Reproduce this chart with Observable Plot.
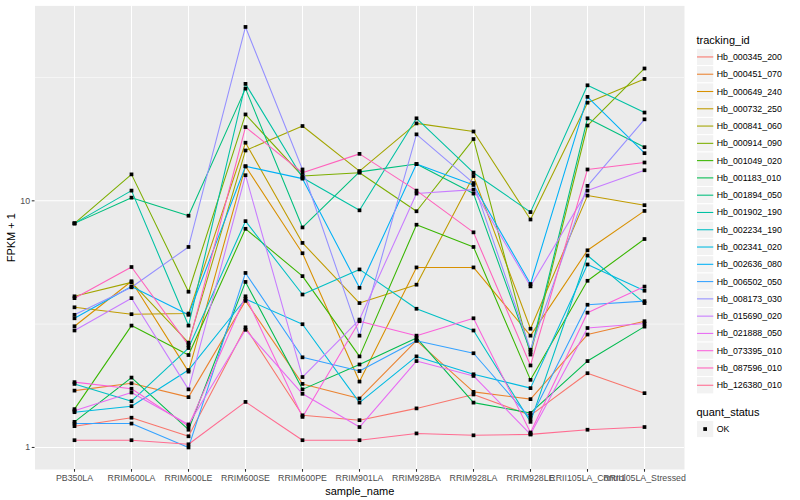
<!DOCTYPE html>
<html><head><meta charset="utf-8">
<script src="https://cdn.jsdelivr.net/npm/d3@7"></script>
<script src="https://cdn.jsdelivr.net/npm/@observablehq/plot@0.6"></script>
<style>
body{margin:0;background:#fff;}
#wrap{position:relative;width:800px;height:500px;}
</style></head><body><div id="wrap"></div>
<script>
const samples = ["PB350LA","RRIM600LA","RRIM600LE","RRIM600SE","RRIM600PE","RRIM901LA","RRIM928BA","RRIM928LA","RRIM928LE","RRII105LA_Control","RRII105LA_Stressed"];
const trackingIds = ["Hb_000345_200","Hb_000451_070","Hb_000649_240","Hb_000732_250","Hb_000841_060","Hb_000914_090","Hb_001049_020","Hb_001183_010","Hb_001894_050","Hb_001902_190","Hb_002234_190","Hb_002341_020","Hb_002636_080","Hb_006502_050","Hb_008173_030","Hb_015690_020","Hb_021888_050","Hb_073395_010","Hb_087596_010","Hb_126380_010"];
const quantStatus = ["OK"];
const yTicks = [1, 10];
const yMinorTicks = [3.1623, 31.623];

// FPKM + 1 per sample, in the order of `samples`
const Hb_000345_200 = [1.22, 1.32, 1.11, 3.07, 1.35, 1.29, 1.44, 1.64, 1.35, 2.0, 1.66];
const Hb_000451_070 = [1.70, 1.82, 1.60, 3.93, 1.81, 1.58, 2.71, 1.68, 1.57, 2.87, 3.25];
const Hb_000649_240 = [3.1, 4.72, 2.03, 13.8, 6.13, 1.85, 5.37, 5.37, 2.84, 6.3, 9.1];
const Hb_000732_250 = [3.7, 3.47, 3.49, 17.2, 6.75, 3.85, 4.57, 12.6, 3.03, 10.5, 9.6];
const Hb_000841_060 = [4.1, 4.67, 2.66, 16.0, 20.1, 13.2, 20.6, 19.1, 8.4, 25.0, 31.2];
const Hb_000914_090 = [8.1, 12.8, 4.28, 22.4, 12.6, 13.0, 9.07, 17.8, 2.38, 20.2, 34.4];
const Hb_001049_020 = [1.43, 3.12, 2.37, 7.7, 4.95, 2.34, 8.0, 6.5, 1.88, 4.74, 7.0];
const Hb_001183_010 = [1.27, 1.92, 1.18, 4.69, 1.72, 2.17, 2.78, 1.52, 1.38, 2.24, 3.09];
const Hb_001894_050 = [8.1, 10.3, 8.7, 28.5, 7.8, 13.1, 14.1, 10.7, 2.44, 21.6, 16.5];
const Hb_001902_190 = [8.1, 11.0, 3.12, 29.8, 12.4, 9.15, 21.6, 13.0, 9.0, 29.4, 22.8];
const Hb_002234_190 = [1.81, 1.54, 2.53, 8.27, 4.17, 5.27, 3.65, 2.98, 1.27, 6.0, 3.85];
const Hb_002341_020 = [1.39, 1.47, 2.06, 4.0, 3.16, 1.52, 2.34, 1.98, 1.74, 5.52, 4.32];
const Hb_002636_080 = [3.34, 4.49, 3.45, 13.8, 12.3, 4.44, 14.1, 11.6, 4.6, 26.4, 15.6];
const Hb_006502_050 = [1.25, 1.25, 1.0, 5.1, 2.32, 2.04, 2.71, 2.41, 1.31, 3.79, 3.92];
const Hb_008173_030 = [3.45, 4.46, 6.5, 50.7, 13.4, 2.84, 18.6, 11.8, 2.49, 11.5, 21.4];
const Hb_015690_020 = [2.98, 4.03, 1.72, 12.7, 1.93, 3.3, 10.7, 11.1, 4.5, 11.0, 13.3];
const Hb_021888_050 = [1.41, 1.67, 1.24, 3.0, 1.65, 1.21, 2.24, 1.95, 1.13, 3.05, 3.18];
const Hb_073395_010 = [1.84, 1.73, 1.22, 4.1, 1.33, 3.25, 2.84, 3.34, 1.15, 3.52, 4.49];
const Hb_087596_010 = [4.03, 5.39, 2.6, 19.9, 13.0, 15.5, 11.0, 7.45, 2.15, 13.4, 14.3];
const Hb_126380_010 = [1.07, 1.07, 1.03, 1.53, 1.07, 1.07, 1.14, 1.12, 1.13, 1.18, 1.21];

const seriesValues = [Hb_000345_200, Hb_000451_070, Hb_000649_240, Hb_000732_250, Hb_000841_060, Hb_000914_090, Hb_001049_020, Hb_001183_010, Hb_001894_050, Hb_001902_190, Hb_002234_190, Hb_002341_020, Hb_002636_080, Hb_006502_050, Hb_008173_030, Hb_015690_020, Hb_021888_050, Hb_073395_010, Hb_087596_010, Hb_126380_010];

const palette = ["#F8766D","#EA8331","#D89000","#C09B00","#A3A500","#7CAE00","#39B600","#00BB4E","#00BF7D","#00C1A3","#00BFC4","#00BAE0","#00B0F6","#35A2FF","#9590FF","#C77CFF","#E76BF3","#FA62DB","#FF62BC","#FF6C91"];

const rows = trackingIds.flatMap((id, i) => samples.map((s, j) => ({id, sample: s, value: seriesValues[i][j], status: quantStatus[0]})));

const font = "'Liberation Sans', Arial, Helvetica, sans-serif";

const chart = Plot.plot({
  width: 800, height: 500,
  marginLeft: 34.5, marginRight: 116, marginTop: 5.4, marginBottom: 31,
  style: {fontFamily: font, fontSize: "8.8px", background: "white", overflow: "visible"},
  x: {type: "point", domain: samples, padding: 0.6, label: null},
  y: {type: "log", domain: [0.814, 61.7], label: null},
  color: {domain: trackingIds, range: palette},
  marks: [
    Plot.frame({fill: "#EBEBEB", stroke: "none"}),
    Plot.gridY(yMinorTicks, {stroke: "white", strokeOpacity: 1, strokeWidth: 0.53}),
    Plot.gridY(yTicks, {stroke: "white", strokeOpacity: 1, strokeWidth: 1.07}),
    Plot.gridX(samples, {stroke: "white", strokeOpacity: 1, strokeWidth: 1.07}),
    Plot.axisY(yTicks, {tickSize: 2.75, tickPadding: 2.2, tickFormat: d => String(d), fill: "#4D4D4D", stroke: "#333333", strokeWidth: 1.07, label: null}),
    Plot.axisX(samples, {tickSize: 2.75, tickPadding: 2.2, fill: "#4D4D4D", stroke: "#333333", strokeWidth: 1.07, label: null}),
    Plot.line(rows, {x: "sample", y: "value", z: "id", stroke: "id", strokeWidth: 1.07}),
    Plot.dot(rows, {x: "sample", y: "value", symbol: "square", r: 2.1, fill: "black", stroke: "none"}),
    Plot.text(["FPKM + 1"], {frameAnchor: "left", dx: -23.5, rotate: -90, textAnchor: "middle", lineAnchor: "middle", fontSize: 11, fill: "black"}),
    Plot.text(["sample_name"], {frameAnchor: "bottom", dy: 22, textAnchor: "middle", lineAnchor: "middle", fontSize: 11, fill: "black"})
  ]
});

// ggplot-like legends on the right
const svg = d3.select(chart);
const lg = svg.append("g").attr("font-family", font).attr("text-anchor", "start");
const lx = 696.5, keyW = 17.28, keyTop = 48.3;
lg.append("text").attr("x", lx).attr("y", 40).attr("dominant-baseline", "central").attr("text-anchor", "start").attr("font-size", 11).attr("fill", "black").text("tracking_id");
trackingIds.forEach((id, i) => {
  const y0 = keyTop + i * keyW;
  lg.append("rect").attr("x", lx).attr("y", y0).attr("width", keyW).attr("height", keyW).attr("fill", "#F2F2F2").attr("stroke", "white").attr("stroke-width", 1);
  lg.append("line").attr("x1", lx + 0.5).attr("x2", lx + keyW - 0.5).attr("y1", y0 + keyW / 2).attr("y2", y0 + keyW / 2).attr("stroke", palette[i]).attr("stroke-width", 1.07);
  lg.append("text").attr("x", lx + keyW + 3).attr("y", y0 + keyW / 2).attr("dominant-baseline", "central").attr("text-anchor", "start").attr("font-size", 8.8).attr("fill", "black").text(id);
});
const qTitleY = keyTop + trackingIds.length * keyW + 18.5;
lg.append("text").attr("x", lx).attr("y", qTitleY).attr("dominant-baseline", "central").attr("text-anchor", "start").attr("font-size", 11).attr("fill", "black").text("quant_status");
quantStatus.forEach((q, i) => {
  const y0 = qTitleY + 8 + i * keyW;
  lg.append("rect").attr("x", lx).attr("y", y0).attr("width", keyW).attr("height", keyW).attr("fill", "#F2F2F2").attr("stroke", "white").attr("stroke-width", 1);
  lg.append("rect").attr("x", lx + keyW / 2 - 1.86).attr("y", y0 + keyW / 2 - 1.86).attr("width", 3.72).attr("height", 3.72).attr("fill", "black");
  lg.append("text").attr("x", lx + keyW + 3).attr("y", y0 + keyW / 2).attr("dominant-baseline", "central").attr("text-anchor", "start").attr("font-size", 8.8).attr("fill", "black").text(q);
});

document.getElementById("wrap").appendChild(chart);
</script>
</body></html>
